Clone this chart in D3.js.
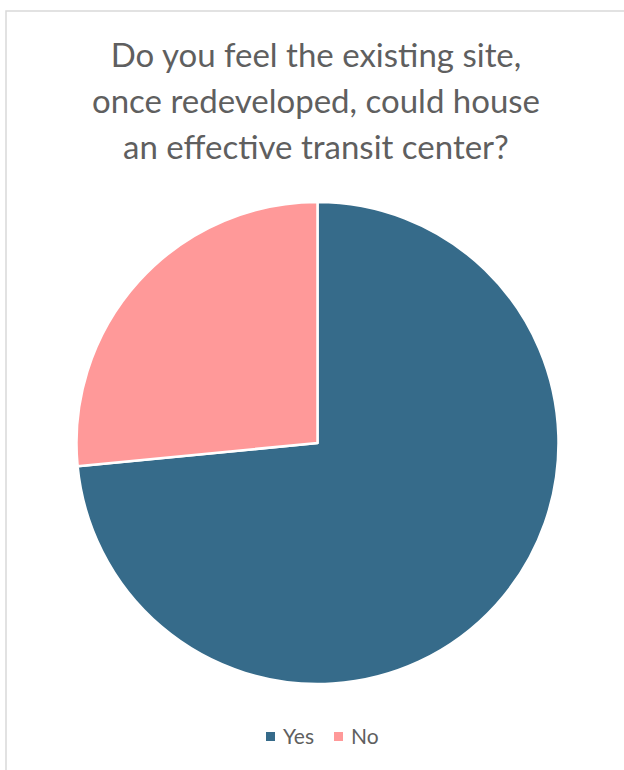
<!DOCTYPE html>
<html>
<head>
<meta charset="utf-8">
<script src="https://cdn.jsdelivr.net/npm/d3@7"></script>
<style>
  html, body { margin: 0; padding: 0; background: #fff; }
  svg { display: block; }
</style>
</head>
<body>
<script>
const categories = ["Yes", "No"];
const values = [36, 13];
const colors = ["#366B8A", "#FF9999"];
const titleLines = ["Do you feel the existing site,", "once redeveloped, could house", "an effective transit center?"];

const W = 624, H = 770;
const svg = d3.select("body").append("svg").attr("width", W).attr("height", H);
svg.append("rect").attr("width", W).attr("height", H).attr("fill", "#fff");

// chart border
svg.append("path")
  .attr("d", `M6,${H} L6,11 L${W},11`)
  .attr("fill", "none").attr("stroke", "#D9D9D9").attr("stroke-width", 1.5);

const font = "Lato, 'Open Sans', sans-serif";

svg.append("g").selectAll("text").data(titleLines).join("text")
  .attr("x", 316).attr("y", (d, i) => 67 + i * 46)
  .attr("text-anchor", "middle")
  .attr("font-family", font).attr("font-size", 33)
  .attr("fill", "#5f5f5f")
  .text(d => d);

const cx = 317.5, cy = 443, r = 241;
const pie = d3.pie().sort(null).value(d => d.v);
const data = pie(categories.map((c, i) => ({ c, v: values[i] })));
const arc = d3.arc().innerRadius(0).outerRadius(r);
const color = d3.scaleOrdinal().domain(categories).range(colors);

svg.append("g").attr("transform", `translate(${cx},${cy})`)
  .selectAll("path").data(data).join("path")
  .attr("d", arc)
  .attr("fill", d => color(d.data.c))
  .attr("stroke", "#fff").attr("stroke-width", 2.5).attr("stroke-linejoin", "round");

// legend
const legend = svg.append("g").attr("font-family", font).attr("font-size", 21).attr("fill", "#5f5f5f");
const items = [{ c: "Yes", x: 266 }, { c: "No", x: 334 }];
items.forEach(it => {
  legend.append("rect").attr("x", it.x).attr("y", 732).attr("width", 9).attr("height", 9).attr("fill", color(it.c));
  legend.append("text").attr("x", it.x + 17).attr("y", 744).text(it.c);
});
</script>
</body>
</html>
